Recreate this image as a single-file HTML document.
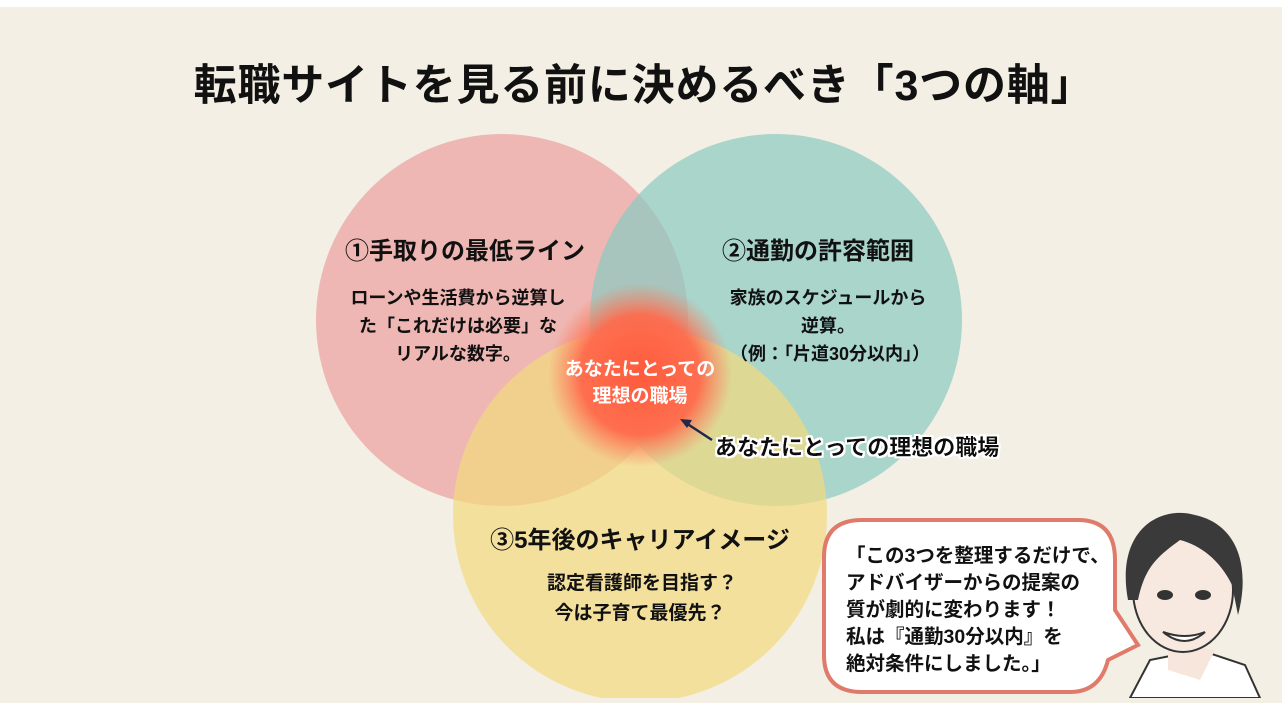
<!DOCTYPE html>
<html><head><meta charset="utf-8"><style>
html,body{margin:0;padding:0;}
body{width:1282px;height:698px;overflow:hidden;background:#f3efe4;font-family:"Liberation Sans","Noto Sans CJK JP",sans-serif;}
svg text{font-family:"Liberation Sans","Noto Sans CJK JP",sans-serif;font-weight:bold;}
</style></head><body>
<svg width="1282" height="698" viewBox="0 0 1282 698" xmlns="http://www.w3.org/2000/svg">
<defs>
<radialGradient id="glow" cx="50%" cy="50%" r="50%">
<stop offset="0" stop-color="#ff5a3c"/><stop offset="0.65" stop-color="#ff6a4c" stop-opacity="0.95"/><stop offset="1" stop-color="#ff7a5a" stop-opacity="0"/>
</radialGradient>
<filter id="halo"><feMorphology operator="dilate" radius="2" in="SourceAlpha" result="d"/><feFlood flood-color="#fff"/><feComposite in2="d" operator="in"/><feMerge><feMergeNode/><feMergeNode in="SourceGraphic"/></feMerge></filter>
</defs>
<rect x="0" y="0" width="1282" height="7" fill="#fff"/>
<text x="644" y="100" font-size="43" text-anchor="middle" fill="#111" letter-spacing="0.8">転職サイトを見る前に決めるべき「3つの軸」</text>
<circle cx="502" cy="320" r="186" fill="#eca9a6" opacity="0.8"/>
<circle cx="776" cy="320" r="186" fill="#8ccbc1" opacity="0.72"/>
<circle cx="640" cy="515" r="187" fill="#f3d97f" opacity="0.72"/>
<circle cx="640" cy="375" r="92" fill="url(#glow)"/>
<g fill="#111" text-anchor="middle">
<text x="465" y="259" font-size="24">①手取りの最低ライン</text>
<text x="458" y="304" font-size="18">ローンや生活費から逆算し</text>
<text x="458" y="332" font-size="18">た「これだけは必要」な</text>
<text x="458" y="360" font-size="18">リアルな数字。</text>
<text x="818" y="259" font-size="24">②通勤の許容範囲</text>
<text x="828" y="304" font-size="18">家族のスケジュールから</text>
<text x="828" y="332" font-size="18">逆算。</text>
<text x="830" y="360" font-size="18">（例：「片道30分以内」）</text>
<text x="640" y="548" font-size="24">③5年後のキャリアイメージ</text>
<text x="642" y="589" font-size="19">認定看護師を目指す？</text>
<text x="640" y="619" font-size="19">今は子育て最優先？</text>
</g>
<text x="640" y="375" font-size="19" text-anchor="middle" fill="#fff">あなたにとっての</text>
<text x="640" y="402" font-size="19" text-anchor="middle" fill="#fff">理想の職場</text>
<line x1="712" y1="440" x2="686" y2="423" stroke="#1e2a4a" stroke-width="2.5"/>
<polygon points="680,419 692,420 687,428" fill="#1e2a4a"/>
<text x="715" y="455" font-size="22" fill="#111" filter="url(#halo)">あなたにとっての理想の職場</text>
<g>
<path d="M1130 698 L1150 660 L1200 650 L1245 665 L1260 698 Z" fill="#fff" stroke="#333" stroke-width="2"/>
<path d="M1168 640 L1168 670 L1200 680 L1215 650 Z" fill="#f7e6dc"/>
<ellipse cx="1183" cy="590" rx="50" ry="62" fill="#f8e9e0" stroke="#333" stroke-width="2"/>
<path d="M1128 600 C1115 530 1160 505 1195 515 C1240 525 1250 570 1238 615 L1232 585 C1220 560 1200 545 1180 540 C1160 555 1145 565 1138 600 Z" fill="#3a3a3a"/>
<ellipse cx="1165" cy="595" rx="8" ry="5" fill="#333"/>
<ellipse cx="1203" cy="595" rx="8" ry="5" fill="#333"/>
<path d="M1163 632 Q1185 650 1205 632 Q1185 640 1163 632 Z" fill="#fff" stroke="#333" stroke-width="2"/>
</g>
<path d="M862 520 L1078 520 Q1115 520 1115 560 L1115 610 L1138 645 L1108 660 Q1100 692 1070 692 L862 692 Q824 692 824 655 L824 557 Q824 520 862 520 Z" fill="#fff" stroke="#e07a6a" stroke-width="4"/>
<g fill="#111" font-size="19.5">
<text x="846" y="562">「この3つを整理するだけで、</text>
<text x="846" y="589">アドバイザーからの提案の</text>
<text x="846" y="616">質が劇的に変わります！</text>
<text x="846" y="643">私は『通勤30分以内』を</text>
<text x="846" y="670">絶対条件にしました。」</text>
</g>
</svg>
</body></html>
